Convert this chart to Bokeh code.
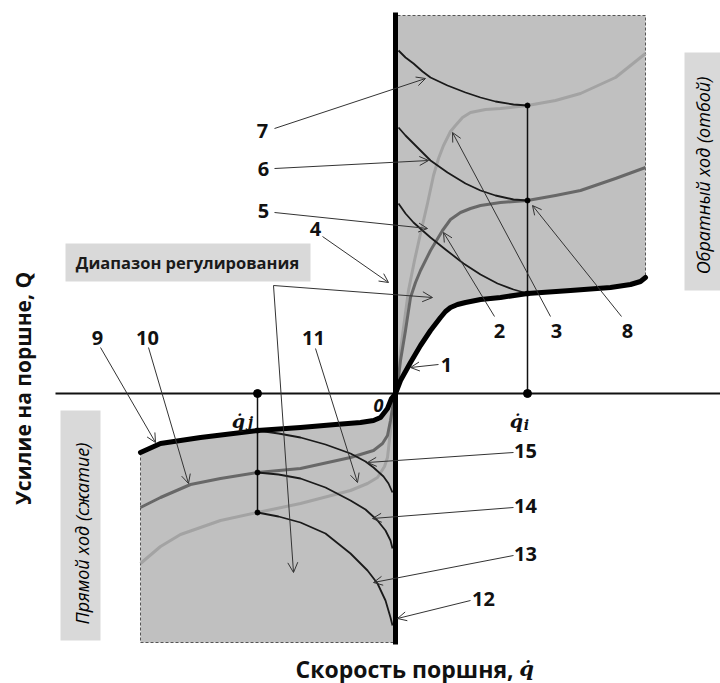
import numpy as np
from bokeh.plotting import figure
from bokeh.models import Range1d, Arrow, OpenHead
from bokeh.core.properties import value
from bokeh.embed import file_html
from bokeh.resources import INLINE

# ---------------- data: piston velocity v (x) and piston force Q (y), arbitrary units ----------------
V_MAX, Q_MAX = 250, 378      # rebound regulation window
V_MIN, Q_MIN = -255, -249    # compression regulation window
V_I, V_J = 132, -138         # reference velocities q_i, q_j

# rebound stroke (otboy)
c1_v = [0, 5, 15, 25, 35, 45, 50, 55, 62, 70, 85, 105, 132, 175, 215, 235, 245, 250]
c1_q = [0, 13, 31, 48, 63, 76, 82, 86, 89, 91, 94, 96, 100, 103, 106, 109, 112, 116]
c2_v = [1, 5, 10, 15, 20, 25, 35, 47, 55, 65, 75, 85, 105, 132, 160, 185, 220, 250]
c2_q = [0, 33, 63, 96, 111, 123, 143, 163, 174, 181, 185, 188, 191, 193, 198, 203, 215, 226]
c3_v = [1, 5, 9, 13, 19, 25, 32, 38, 43, 48, 55, 60, 67, 75, 90, 105, 132, 160, 185, 220, 250]
c3_q = [0, 43, 73, 103, 133, 160, 190, 218, 235, 248, 262, 268, 276, 281, 284, 285, 288, 293, 300, 316, 340]
c5_v = [3, 10, 18, 27, 35, 50, 68, 85, 102, 118, 132]
c5_q = [190, 180, 171, 163, 156, 144, 130, 119, 110, 104, 100]
c6_v = [3, 10, 18, 27, 35, 52, 70, 85, 100, 118, 132]
c6_q = [266, 258, 250, 241, 233, 221, 210, 203, 198, 194, 193]
c7_v = [3, 10, 18, 27, 35, 52, 70, 85, 100, 118, 132]
c7_q = [343, 336, 330, 322, 316, 308, 301, 296, 292, 289, 288]

# compression stroke (szhatie)
c9_v = [-255, -235, -195, -138, -95, -60, -35, -22, -15, -8, -4, 0]
c9_q = [-59, -50, -44, -37, -34, -31, -29, -27, -24, -15, -5, 0]
c10_v = [-255, -235, -205, -175, -138, -95, -45, -22, -13, -8, -5, -2, 0]
c10_q = [-114, -104, -91, -85, -79, -75, -64, -57, -50, -42, -27, -8, 0]
c11_v = [-255, -235, -215, -175, -138, -95, -45, -28, -18, -11, -8, -5, -2, 0]
c11_q = [-170, -153, -141, -127, -119, -110, -97, -90, -84, -73, -64, -37, -12, 0]
c13_v = [-138, -117, -95, -70, -45, -28, -18, -10, -5, -3]
c13_q = [-119, -123, -129, -140, -160, -177, -190, -207, -224, -232]
c14_v = [-138, -117, -95, -70, -45, -30, -18, -10, -5, -3]
c14_q = [-79, -81, -85, -94, -107, -116, -127, -137, -147, -155]
c15_v = [-138, -117, -95, -70, -45, -30, -22, -12, -7, -3]
c15_q = [-37, -40, -44, -51, -60, -68, -74, -83, -90, -99]

# points where the reference verticals cross the curves
pts_i_q = [100, 193, 288]
pts_j_q = [-37, -79, -119]

# numbered labels and their leader arrows
num_text = ["1", "2", "3", "4", "5", "6", "7", "8", "9", "10", "11", "12", "13", "14", "15"]
num_x = [51, 104, 161, -80, -132, -132, -133, 232, -298, -248, -82, 88, 130, 130, 130]
num_y = [29, 63, 63, 165, 183, 225, 263, 63, 56, 56, 56, -205, -160, -112, -57]
arr_x0 = [43, 99, 155, -73, -121, -121, -121, 226, -295, -247, -80, 75, 118, 118, 118]
arr_y0 = [29, 77, 77, 157, 181, 225, 265, 77, 46, 46, 45, -207, -162, -114, -59]
arr_x1 = [15, 48, 57, -7, 32, 33, 30, 137, -240, -207, -38, 2, -22, -23, -28]
arr_y1 = [26, 161, 261, 111, 165, 233, 315, 188, -49, -90, -89, -225, -189, -125, -69]

range_label = "Диапазон регулирования"
rebound_label = "Обратный ход (отбой)"
compress_label = "Прямой ход (сжатие)"
x_label = "Скорость поршня,"
y_label = "Усилие на поршне, Q"

# ---------------- figure ----------------
p = figure(width=720, height=683, output_backend="svg", toolbar_location=None,
           x_range=Range1d(-395, 325), y_range=Range1d(-290, 393),
           x_axis_location=None, y_axis_location=None, min_border=0)
p.grid.visible = False
p.outline_line_color = None
p.background_fill_color = "white"

SH = "#c0c0c0"
# shaded regulation windows
p.patch(c1_v + [V_MAX, 0], c1_q + [Q_MAX, Q_MAX], fill_color=SH, line_color=None)
p.patch(c9_v + [0, V_MIN], c9_q + [Q_MIN, Q_MIN], fill_color=SH, line_color=None)
# dashed borders
p.line([2, V_MAX, V_MAX], [Q_MAX, Q_MAX, c1_q[-1]], line_dash="3 2", line_color="#555555", line_width=1)
p.line([c9_v[0], V_MIN, 0], [c9_q[0], Q_MIN, Q_MIN], line_dash="3 2", line_color="#555555", line_width=1)

# gray characteristics
p.line(c3_v, c3_q, line_color="#a3a3a3", line_width=3, line_join="round")
p.line(c11_v, c11_q, line_color="#a3a3a3", line_width=3, line_join="round")
p.line(c2_v, c2_q, line_color="#686868", line_width=3, line_join="round")
p.line(c10_v, c10_q, line_color="#686868", line_width=3, line_join="round")

# thin black characteristics
for vv, qq in [(c5_v, c5_q), (c6_v, c6_q), (c7_v, c7_q), (c13_v, c13_q), (c14_v, c14_q), (c15_v, c15_q)]:
    p.line(vv, qq, line_color="#1a1a1a", line_width=1.8, line_join="round")

# reference verticals
p.line([V_I, V_I], [0, max(pts_i_q)], line_color="#111111", line_width=1.5)
p.line([V_J, V_J], [0, min(pts_j_q)], line_color="#111111", line_width=1.5)

# axes
p.line([-340, 330], [0, 0], line_color="#111111", line_width=2)

# thick limit characteristics
p.line(c1_v, c1_q, line_color="#000000", line_width=5, line_cap="round", line_join="round")
p.line(c9_v, c9_q, line_color="#000000", line_width=5, line_cap="round", line_join="round")
p.line([0, 0], [Q_MIN - 2, 381], line_color="#000000", line_width=5)

# dots
p.scatter([V_I, V_J], [0, 0], size=8, color="#000000")
p.scatter([V_I] * 3 + [V_J] * 3, pts_i_q + pts_j_q, size=5, color="#000000")

# leader arrows
for x0, y0, x1, y1 in zip(arr_x0, arr_y0, arr_x1, arr_y1):
    p.add_layout(Arrow(x_start=x0, y_start=y0, x_end=x1, y_end=y1,
                       line_color="#333333", line_width=1,
                       end=OpenHead(size=9, line_color="#333333", line_width=1)))
# range arrows
corner = (-122, 108)
for x1, y1 in [(37, 96), (-102, -179)]:
    p.add_layout(Arrow(x_start=corner[0], y_start=corner[1], x_end=x1, y_end=y1,
                       line_color="#333333", line_width=1,
                       end=OpenHead(size=10, line_color="#333333", line_width=1)))

# label boxes
p.quad(left=[-330, 289, -335], right=[-85, 330, -295], bottom=[112, 103, -247], top=[150, 341, -17],
       fill_color="#d9d9d9", line_color=None)

FONT = value("Open Sans")
p.text([-208], [131], text=[range_label], text_font=FONT, text_font_size="16.5px", text_font_style="bold",
       text_align="center", text_baseline="middle", text_color="#1a1a1a")
p.text([307], [218], text=[rebound_label], angle=np.pi / 2, text_font=FONT, text_font_size="18px",
       text_font_style="italic", text_align="center", text_baseline="middle", text_color="#000000")
p.text([-314], [-140], text=[compress_label], angle=np.pi / 2, text_font=FONT, text_font_size="18px",
       text_font_style="italic", text_align="center", text_baseline="middle", text_color="#000000")

# numbers
p.text(num_x, num_y, text=num_text, text_font=FONT, text_font_size="20px", text_font_style="bold",
       text_align="center", text_baseline="middle", text_color="#111111")

# origin and velocity marks
p.text([-17], [-12], text=["0"], text_font=FONT, text_font_size="18px", text_font_style="bold italic",
       text_align="center", text_baseline="middle", text_color="#111111")
SERIF = value("DejaVu Serif")
p.text([121, -157], [-27, -27], text=["q\u0307", "q\u0307"], text_font=SERIF, text_font_size="19px",
       text_font_style="bold italic", text_align="center", text_baseline="alphabetic", text_color="#111111")
p.text([131, -145], [-31, -28], text=["i", "j"], text_font=SERIF, text_font_size="14px",
       text_font_style="bold italic", text_align="center", text_baseline="alphabetic", text_color="#111111")

# axis titles
p.text([-373], [5], text=[y_label], angle=np.pi / 2, text_font=FONT, text_font_size="21px",
       text_font_style="bold", text_align="center", text_baseline="middle", text_color="#111111")
p.text([-100], [-275], text=[x_label], text_font=FONT, text_font_size="23px",
       text_font_style="bold", text_align="left", text_baseline="alphabetic", text_color="#111111")
p.text([131], [-275], text=["q\u0307"], text_font=SERIF, text_font_size="21px",
       text_font_style="bold italic", text_align="center", text_baseline="alphabetic", text_color="#111111")

open("out.html", "w").write(file_html(p, INLINE))
